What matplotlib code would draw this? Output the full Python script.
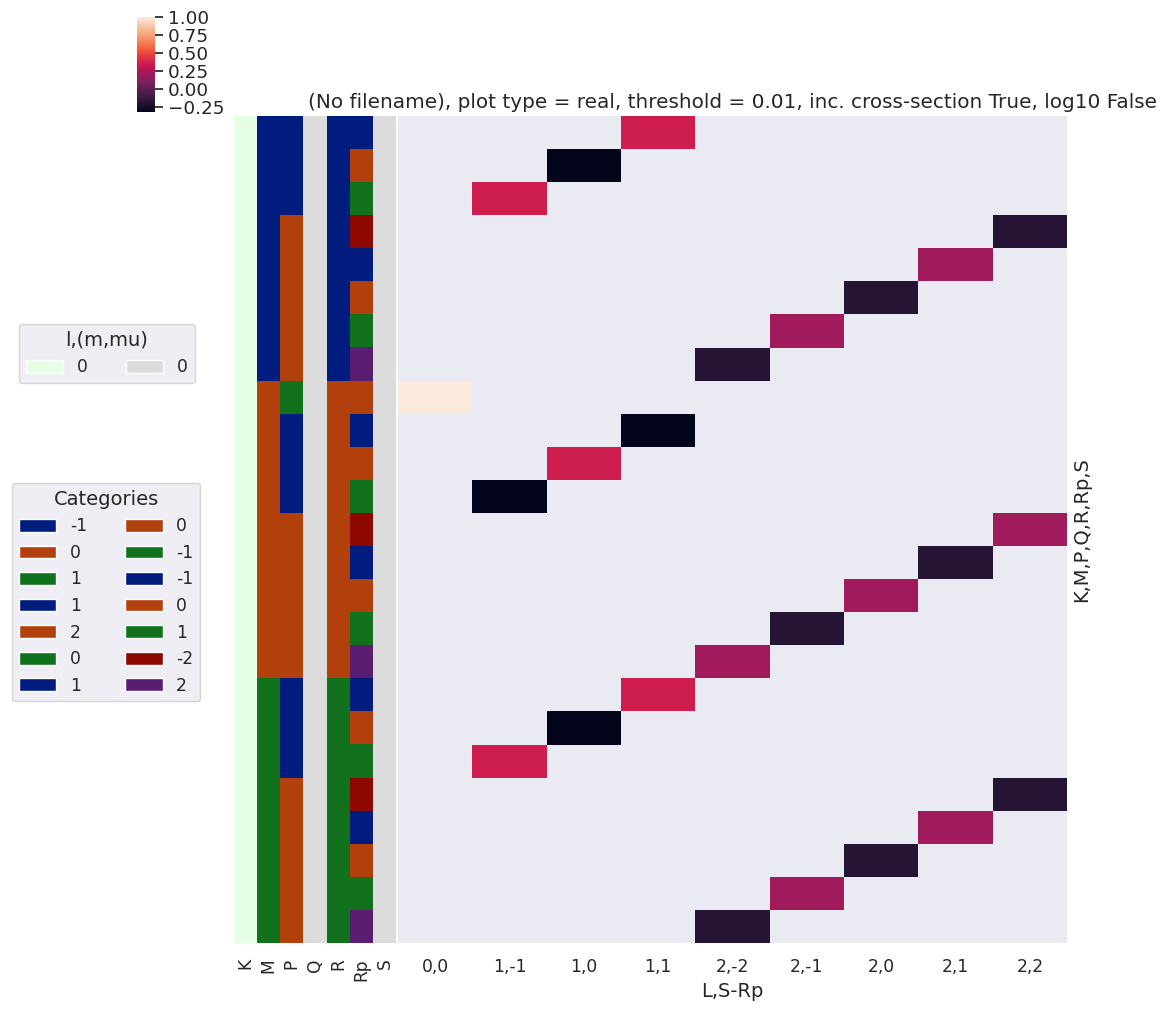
import numpy as np
import pandas as pd
import matplotlib
matplotlib.use('Agg')
import matplotlib.pyplot as plt
from matplotlib.patches import Patch
from matplotlib.ticker import MultipleLocator
import seaborn as sns

# heatmap columns (L,S-Rp) and the single filled cell of each of the 25 rows
cols = ['0,0', '1,-1', '1,0', '1,1', '2,-2', '2,-1', '2,0', '2,1', '2,2']
cell_col = ['1,1', '1,0', '1,-1', '2,2', '2,1', '2,0', '2,-1', '2,-2',
            '0,0', '1,1', '1,0', '1,-1', '2,2', '2,1', '2,0', '2,-1', '2,-2',
            '1,1', '1,0', '1,-1', '2,2', '2,1', '2,0', '2,-1', '2,-2']
cell_val = [0.35, -0.316, 0.35, -0.183, 0.211, -0.183, 0.211, -0.183,
            1.0, -0.316, 0.35, -0.316, 0.211, -0.183, 0.211, -0.183, 0.211,
            0.35, -0.316, 0.35, -0.183, 0.211, -0.183, 0.211, -0.183]

# row index values (K,M,P,Q,R,Rp,S)
K = [0] * 25
M = [-1] * 8 + [0] * 9 + [1] * 8
P = [1, 1, 1, 2, 2, 2, 2, 2, 0, 1, 1, 1, 2, 2, 2, 2, 2, 1, 1, 1, 2, 2, 2, 2, 2]
Q = [0] * 25
R = [1] * 8 + [0] * 9 + [-1] * 8
Rp = [-1, 0, 1, -2, -1, 0, 1, 2, 0, -1, 0, 1, -2, -1, 0, 1, 2,
      -1, 0, 1, -2, -1, 0, 1, 2]
S = [0] * 25
row_names = ['K', 'M', 'P', 'Q', 'R', 'Rp', 'S']

title = ('(No filename), plot type = real, threshold = 0.01, '
         'inc. cross-section True, log10 False')

sns.set_theme(style='darkgrid')

blue, orange, green, red, purple = sns.color_palette('dark')[:5]
lmmu_cols = {'K': {0: '#e5ffe5'}, 'Q': {0: '#dcdcdc'}, 'S': {0: '#dcdcdc'}}
cat_cols = {
    'M': {-1: blue, 0: orange, 1: green},
    'P': {1: blue, 2: orange, 0: green},
    'R': {1: blue, 0: orange, -1: green},
    'Rp': {-1: blue, 0: orange, 1: green, -2: red, 2: purple},
}
all_cols = {**lmmu_cols, **cat_cols}

data = pd.DataFrame(np.nan, index=range(len(cell_col)), columns=cols)
for i, (c, v) in enumerate(zip(cell_col, cell_val)):
    data.loc[i, c] = v

idx = pd.DataFrame({'K': K, 'M': M, 'P': P, 'Q': Q, 'R': R, 'Rp': Rp, 'S': S})
rgb = np.array([[matplotlib.colors.to_rgb(all_cols[n][idx.loc[i, n]])
                 for n in row_names] for i in range(len(idx))])

W, H = 1169, 1014
fig = plt.figure(figsize=(W / 100, H / 100), dpi=100)


def px(l, t, r, b):
    return [l / W, 1 - b / H, (r - l) / W, (b - t) / H]


ax_hm = fig.add_axes(px(398, 116, 1067, 943))
ax_rc = fig.add_axes(px(234, 116, 396, 943))
cax = fig.add_axes(px(137, 17, 155, 112))

sns.heatmap(data, ax=ax_hm, cmap='rocket', cbar_ax=cax, yticklabels=False)
ax_hm.grid(False)
ax_hm.set_title(title, fontsize=14.4)
ax_hm.set_xlabel('L,S-Rp', fontsize=14)
ax_hm.set_ylabel('K,M,P,Q,R,Rp,S', fontsize=14, labelpad=4)
ax_hm.yaxis.set_label_position('right')
ax_hm.tick_params(axis='x', labelsize=12.3, length=0, pad=11, rotation=0)

ax_rc.imshow(rgb, aspect='auto', interpolation='nearest')
ax_rc.grid(False)
ax_rc.set_xticks(range(len(row_names)))
ax_rc.set_xticklabels(row_names, rotation=90)
ax_rc.set_yticks([])
ax_rc.tick_params(axis='x', labelsize=12.3, length=0, pad=11)
for s in ax_rc.spines.values():
    s.set_visible(False)

cax.yaxis.set_major_locator(MultipleLocator(0.25))
cax.yaxis.set_major_formatter(matplotlib.ticker.FuncFormatter(
    lambda v, p: f'{v:.2f}'.replace('-', '\u2212')))
cax.tick_params(labelsize=13.2, right=True, length=6, width=1.25, color='.15')
cax.yaxis.set_ticks_position('right')

# legends
h1 = [Patch(facecolor=all_cols[n][v]) for n in lmmu_cols for v in lmmu_cols[n] if n != 'S']
l1 = [str(v) for n in lmmu_cols for v in lmmu_cols[n] if n != 'S']
fig.legend(h1, l1, title='l,(m,mu)', ncol=2, loc='upper left',
           bbox_to_anchor=(19 / W, 1 - 324 / H), borderaxespad=0,
           fontsize=12.3, title_fontsize=14, handlelength=2.2, handleheight=0.78,
           columnspacing=2.2)

h2 = [Patch(facecolor=c) for n in cat_cols for c in cat_cols[n].values()]
l2 = [str(v) for n in cat_cols for v in cat_cols[n]]
fig.legend(h2, l2, title='Categories', ncol=2, loc='upper left',
           bbox_to_anchor=(12 / W, 1 - 483 / H), borderaxespad=0,
           fontsize=12.3, title_fontsize=14, handlelength=2.2, handleheight=0.78,
           columnspacing=2.2)

fig.savefig('out.png', dpi=100)
